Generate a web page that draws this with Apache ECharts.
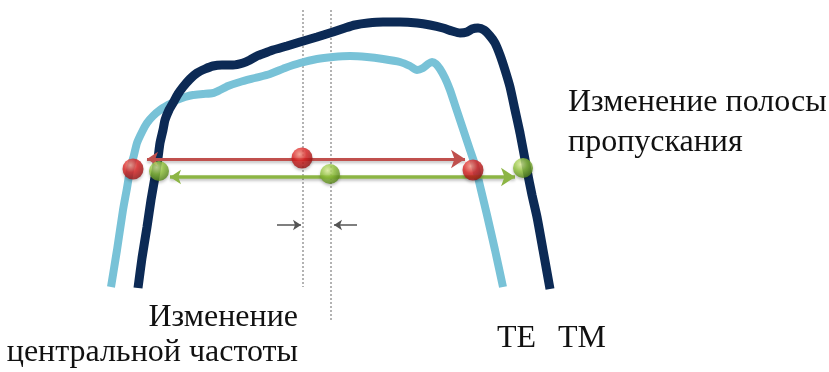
<!DOCTYPE html>
<html><head><meta charset="utf-8">
<script src="https://cdn.jsdelivr.net/npm/echarts@6/dist/echarts.min.js"></script>
<style>html,body{margin:0;padding:0;background:#fff}#c{width:829px;height:372px}</style>
</head><body><div id="c"></div>
<script>
// TE curve (light blue)
const teX = [111,117,123,127,130,134,137,142,147,153,160,168,177,185,193,203,213,220,228,240,255,270,285,300,317,333,350,367,383,400,410,417,423,428,432,436,440,445,450,455,460,465,470,475,481,487,495,503];
const teY = [287,250,210,188,170,155,143,132,123,116,110,105,100,97,95,94,93,90,86,82,78,74,68,63,59,57,56,57,59,62,66,70,68,64,62,64,69,78,90,105,120,135,150,165,190,215,250,287];
// TM curve (dark navy)
const tmX = [138,142,147,151,155,158,160,163,165,169,173,178,183,190,197,205,213,222,233,243,250,257,265,273,287,300,317,333,345,355,368,383,400,417,430,443,452,460,467,472,478,484,490,495,500,505,510,515,520,527,532,537,543,550];
const tmY = [288,258,227,200,177,158,143,130,120,110,103,94,87,79,73,69,66,65,65,63,60,56,53,50,46,42,37,32,28,25,23,22,22,23,25,28,31,33,32,29,28,30,36,43,55,70,87,110,133,170,195,217,250,289];
// Marker points
const redPts = [[133,169],[302,158],[473,170]];
const greenPts = [[159,171],[330,174],[523,168]];
// Bandwidth arrows [x1, x2, y]
const redArrow = [147,465,159];
const greenArrow = [170,515,177];
// Dotted centre lines [x, yTop, yBottom]
const guideLines = [[303,10,287],[331,10,320]];
// Small shift arrows [xFrom, xTo, y]
const shiftArrows = [[277,301,225],[357,334,225]];
// Labels
const bwLabel = ['Изменение полосы','пропускания'];
const cfLabel = ['Изменение','центральной частоты'];
const modeLabels = ['TE','TM'];

const chart = echarts.init(document.getElementById('c'), null, {renderer:'canvas'});
const grad = (c0,c1,c2)=>({type:'radial',x:0.38,y:0.32,r:0.75,colorStops:[{offset:0,color:c0},{offset:0.45,color:c1},{offset:1,color:c2}]});
const serif = '"Liberation Serif","Times New Roman",serif';
const fs = 32;
chart.setOption({
  animation:false,
  grid:{left:0,right:0,top:0,bottom:0},
  xAxis:{type:'value',min:0,max:829,show:false},
  yAxis:{type:'value',min:0,max:372,inverse:true,show:false},
  series:[
    {type:'lines',coordinateSystem:'cartesian2d',z:1,silent:true,
     lineStyle:{color:'#9a9a9a',width:1.5,type:[2,2],opacity:1},
     data:guideLines.map(g=>({coords:[[g[0],g[1]],[g[0],g[2]]]}))},
    {type:'line',name:'TE',z:2,showSymbol:false,smooth:0.2,
     lineStyle:{color:'#78c2d7',width:8},
     data:teX.map((x,i)=>[x,teY[i]])},
    {type:'line',name:'TM',z:3,showSymbol:false,smooth:0.2,
     lineStyle:{color:'#0c2a55',width:9},
     data:tmX.map((x,i)=>[x,tmY[i]])},
    {type:'lines',coordinateSystem:'cartesian2d',z:4,silent:true,
     symbol:['arrow','arrow'],symbolSize:[11,14],
     lineStyle:{color:'#c0504d',width:3,opacity:1,shadowColor:'rgba(0,0,0,0.25)',shadowBlur:3,shadowOffsetY:2},
     data:[{coords:[[redArrow[0],redArrow[2]],[redArrow[1],redArrow[2]]]}]},
    {type:'lines',coordinateSystem:'cartesian2d',z:4,silent:true,
     symbol:['arrow','arrow'],symbolSize:[11,14],
     lineStyle:{color:'#8cb544',width:3.5,opacity:1,shadowColor:'rgba(0,0,0,0.25)',shadowBlur:3,shadowOffsetY:2},
     data:[{coords:[[greenArrow[0],greenArrow[2]],[greenArrow[1],greenArrow[2]]]}]},
    {type:'lines',coordinateSystem:'cartesian2d',z:4,silent:true,
     symbol:['none','arrow'],symbolSize:8,
     lineStyle:{color:'#555',width:1.5,opacity:1},
     data:shiftArrows.map(a=>({coords:[[a[0],a[2]],[a[1],a[2]]]}))},
    {type:'scatter',z:5,symbolSize:21,
     itemStyle:{color:grad('#ff9a8a','#dd2222','#8e1010'),shadowColor:'rgba(0,0,0,0.3)',shadowBlur:3,shadowOffsetY:2},
     data:redPts},
    {type:'scatter',z:5,symbolSize:20,
     itemStyle:{color:grad('#e4f7a0','#93c63c','#4f7d15'),shadowColor:'rgba(0,0,0,0.3)',shadowBlur:3,shadowOffsetY:2},
     data:greenPts}
  ],
  graphic:[
    {type:'text',left:568,top:87,style:{text:bwLabel[0],font:fs+'px '+serif,fill:'#111'}},
    {type:'text',left:568,top:127,style:{text:bwLabel[1],font:fs+'px '+serif,fill:'#111'}},
    {type:'text',right:531,top:302,style:{text:cfLabel[0],font:fs+'px '+serif,fill:'#111'}},
    {type:'text',right:531,top:337,style:{text:cfLabel[1],font:fs+'px '+serif,fill:'#111'}},
    {type:'text',left:497,top:323,style:{text:modeLabels[0],font:fs+'px '+serif,fill:'#111'}},
    {type:'text',left:558,top:323,style:{text:modeLabels[1],font:fs+'px '+serif,fill:'#111'}}
  ]
});
</script></body></html>
